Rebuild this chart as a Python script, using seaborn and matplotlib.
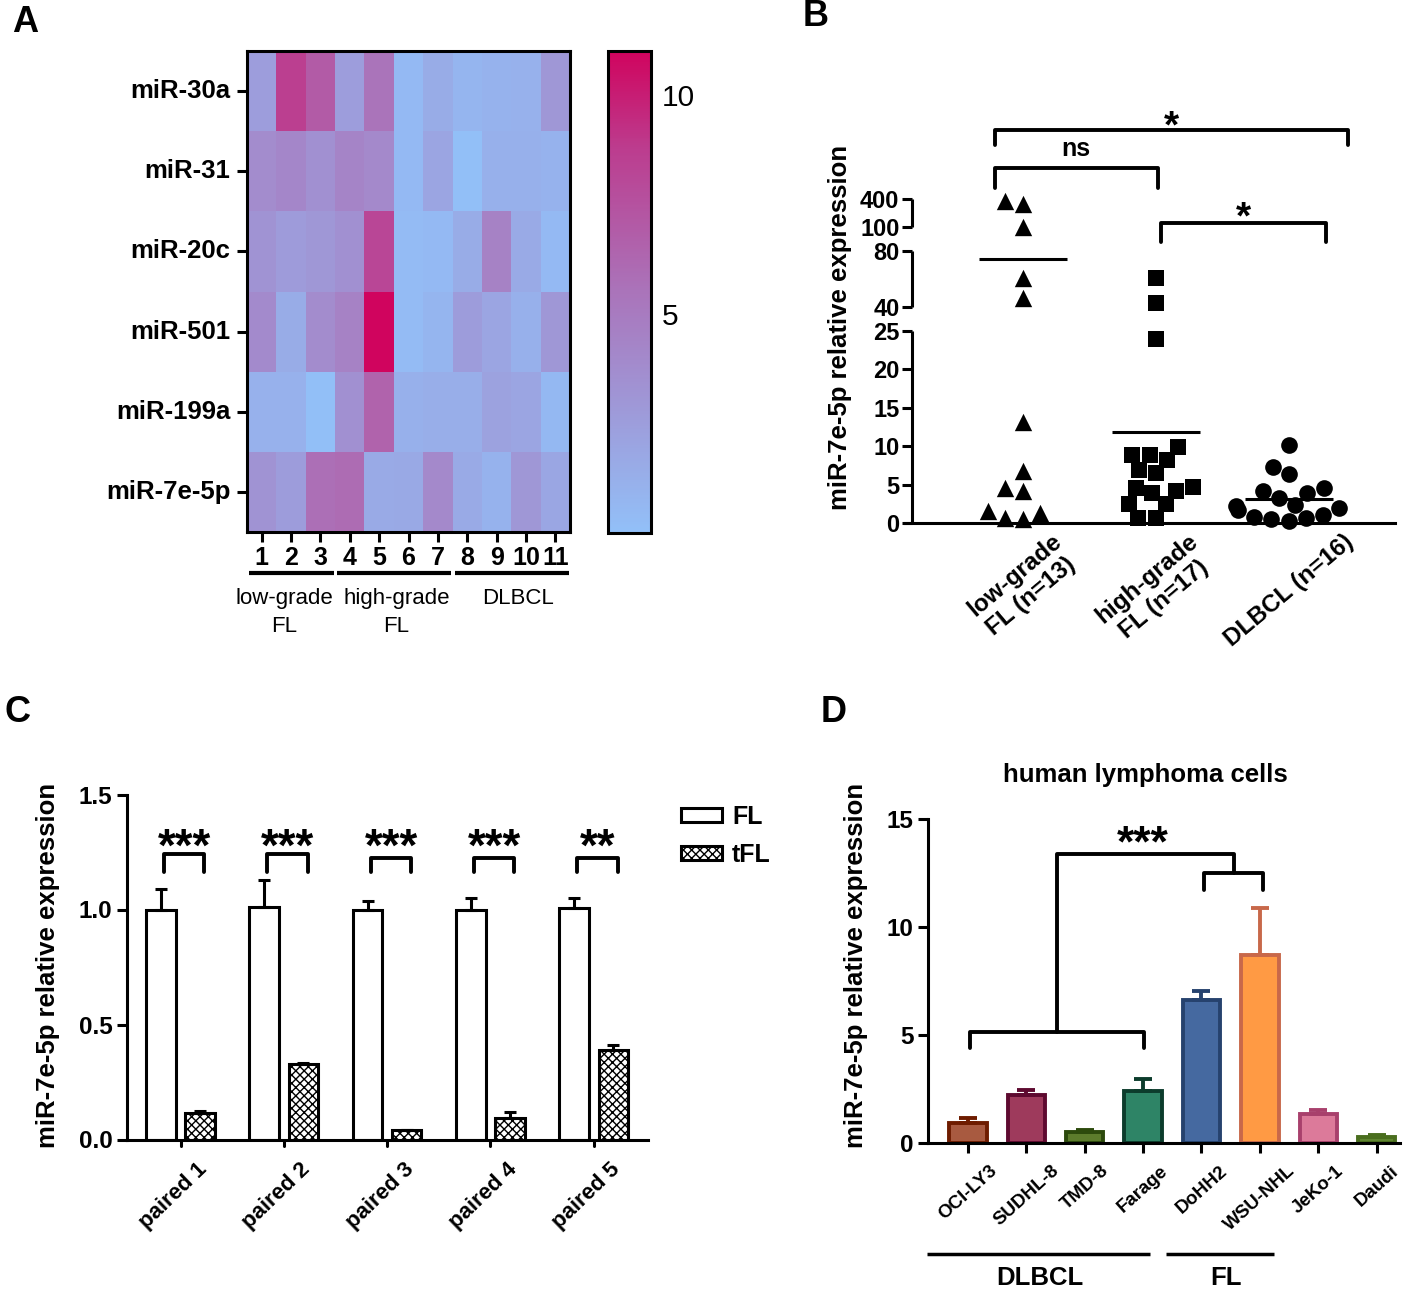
import numpy as np
import pandas as pd
import seaborn as sns
import matplotlib.pyplot as plt
from matplotlib.colors import LinearSegmentedColormap
from matplotlib.patches import Patch

sns.set_theme(style='ticks', rc={'axes.edgecolor': 'black', 'xtick.color': 'black',
                                 'ytick.color': 'black', 'text.color': 'black',
                                 'axes.labelcolor': 'black'})
plt.rcParams['font.family'] = ['Liberation Sans', 'DejaVu Sans']
plt.rcParams['font.weight'] = 'bold'
plt.rcParams['hatch.linewidth'] = 1.0

W, H = 1418, 1290


def box(l, t, r, b):
    # pixel box -> figure fraction
    return [l / W, 1 - b / H, (r - l) / W, (b - t) / H]


# ---------------- data ----------------
# A: heatmap
mirnas = ['miR-30a', 'miR-31', 'miR-20c', 'miR-501', 'miR-199a', 'miR-7e-5p']
samples = [str(i) for i in range(1, 12)]
heat = [
    [2.5, 8.6, 7.0, 2.5, 5.5, 0.5, 1.5, 0.8, 1.0, 1.1, 3.0],
    [3.8, 4.2, 3.5, 4.3, 4.0, 0.5, 2.0, 0.1, 1.2, 1.2, 1.0],
    [3.3, 2.7, 3.0, 3.5, 8.2, 0.4, 0.5, 1.5, 4.5, 1.6, 0.5],
    [3.9, 1.5, 3.8, 4.5, 11.0, 0.4, 0.8, 2.6, 2.0, 1.2, 3.0],
    [1.1, 1.1, 0.1, 3.5, 6.5, 1.2, 1.3, 1.3, 2.2, 2.0, 0.6],
    [3.3, 2.6, 5.8, 6.0, 1.6, 1.7, 4.0, 1.6, 1.0, 3.0, 1.9],
]
heat_groups = ['low-grade\nFL', 'high-grade\nFL', 'DLBCL']
heat_spans = [(0, 3), (3, 7), (7, 11)]

# B: scatter dot plot
b_groups = ['low-grade\nFL (n=13)', 'high-grade\nFL (n=17)', 'DLBCL (n=16)']
low_fl = [0.5, 380, 350, 100, 61, 46, 13.1, 6.8, 4.2, 4.5, 1.6, 0.7, 1.3]
high_fl = [61, 42.5, 23.9, 8.9, 8.8, 9.9, 8.2, 6.5, 6.9, 4.6, 4.2, 2.5, 3.9, 4.7, 2.5, 0.7, 0.7]
dlbcl = [10.1, 7.3, 6.4, 4.5, 3.2, 3.9, 4.1, 1.9, 1.7, 2.3, 2.2, 0.8, 1.0, 0.3, 0.6, 0.5]
b_values = [low_fl, high_fl, dlbcl]
b_yticks = [0, 5, 10, 15, 20, 25, 40, 80, 100, 400]

# C: paired FL / tFL
pairs = ['paired 1', 'paired 2', 'paired 3', 'paired 4', 'paired 5']
fl_mean = [1.0, 1.01, 1.0, 1.0, 1.005]
fl_se = [0.09, 0.12, 0.035, 0.05, 0.045]
tfl_mean = [0.115, 0.33, 0.04, 0.092, 0.39]
tfl_se = [0.01, 0.003, 0.003, 0.026, 0.02]
c_stars = ['***', '***', '***', '***', '**']

# D: cell lines
cells = ['OCI-LY3', 'SUDHL-8', 'TMD-8', 'Farage', 'DoHH2', 'WSU-NHL', 'JeKo-1', 'Daudi']
d_mean = [0.93, 2.2, 0.5, 2.4, 6.62, 8.7, 1.35, 0.25]
d_se = [0.2, 0.24, 0.09, 0.54, 0.43, 2.18, 0.17, 0.1]
d_fill = ['#a85a40', '#9e3a5c', '#5c7c2c', '#2e8466', '#4569a0', '#ff9a44', '#dc7a9a', '#5f8530']
d_edge = ['#6e1c00', '#5e0a30', '#2c4a0c', '#0c3c2c', '#26426e', '#c8684a', '#a8406c', '#4a6e1e']

fig = plt.figure(figsize=(W / 100, H / 100), dpi=100)

# ---------------- A ----------------
axA = fig.add_axes(box(247, 51, 570, 532))
caxA = fig.add_axes(box(608, 51, 651, 533))
cmap = LinearSegmentedColormap.from_list(
    'bluemag', [(0, '#92c0f8'), (0.5, '#aa74ba'), (0.8, '#bc3c8e'), (1, '#d0045e')])
heat_df = pd.DataFrame(heat, index=mirnas, columns=samples)
sns.heatmap(heat_df, cmap=cmap, vmin=0, vmax=11, ax=axA, cbar_ax=caxA)
for s in axA.spines.values():
    s.set_visible(True)
    s.set_linewidth(2.2)
axA.tick_params(length=7, width=2.2, labelsize=18.5, pad=5)
axA.tick_params(axis='x', labelsize=18, pad=3)
axA.set_yticklabels(mirnas, rotation=0)
axA.set_xticklabels(samples, rotation=0)
axA.set_xlabel('')
axA.set_ylabel('')
cbar = axA.collections[0].colorbar
cbar.outline.set_linewidth(2.2)
cbar.set_ticks([5, 10], labels=['5', '10'], fontsize=21.5, fontweight='normal')
caxA.tick_params(direction='in', length=6, width=2, left=True, right=True, pad=8)

trA = axA.get_xaxis_transform()
for (a, b), name, xc in zip(heat_spans, heat_groups, [1.27, 5.09, 9.24]):
    axA.plot([a + 0.08, b - 0.05], [-0.085, -0.085], transform=trA, color='black',
             lw=3, clip_on=False, solid_capstyle='butt')
    axA.text(xc, -0.117, name, transform=trA, ha='center', va='top',
             fontsize=16, fontweight='normal', linespacing=1.4)

# ---------------- B ----------------
b_nodes_val = [-100, 0, 25, 40, 80, 100, 400, 10000]
b_nodes_pos = [-769, 0, 192.3, 216.3, 271.7, 296.3, 323.7, 323.7 + 9600 * 0.0913]


def fwd(v):
    return np.interp(v, b_nodes_val, b_nodes_pos)


def inv(p):
    return np.interp(p, b_nodes_pos, b_nodes_val)


axB = fig.add_axes(box(912, 199.3, 1395, 523))
axB.set_yscale('function', functions=(fwd, inv))
for name, vals, mk, sz in zip(b_groups, b_values, ['^', 's', 'o'], [12.5, 12, 12]):
    sns.swarmplot(x=[name] * len(vals), y=vals, order=b_groups, color='black',
                  marker=mk, size=sz, linewidth=0, ax=axB)
for c in axB.collections:
    c.set_clip_on(False)
for i, vals in enumerate(b_values):
    axB.hlines(np.mean(vals), i - 0.33, i + 0.33, color='black', lw=2.2)
axB.set_xlim(-0.835, 2.8)
axB.set_ylim(0, 400)
sns.despine(ax=axB)
axB.spines['left'].set_visible(False)
axB.spines['bottom'].set_linewidth(2.2)
axB.spines['bottom'].set_bounds(-0.89, 2.8)
ytr = axB.get_yaxis_transform()
for lo, hi in [(0, 25), (40, 80), (100, 400)]:
    axB.plot([0, 0], [lo, hi], transform=ytr, color='black', lw=2.2,
             clip_on=False, solid_capstyle='butt')
axB.set_yticks(b_yticks)
axB.set_yticklabels([str(v) for v in b_yticks])
axB.tick_params(axis='y', length=7, width=2.2, labelsize=17, pad=2)
axB.tick_params(axis='x', length=0, pad=5)
axB.set_xticks(range(3))
axB.set_xticklabels(b_groups, rotation=40, ha='center', fontsize=17.5)
axB.set_xlabel('')
axB.set_ylabel('')
axB.spines['bottom'].set_clip_on(False)


def bracket(ax, tr, x0, x1, ytop, ybot, lw=2.8):
    ax.plot([x0, x0, x1, x1], [ybot, ytop, ytop, ybot], transform=tr, color='black',
            lw=lw, clip_on=False)


btr = axB.get_xaxis_transform()
bracket(axB, btr, -0.21, 2.45, 1.214, 1.168)
axB.text(1.12, 1.19, '*', transform=btr, ha='center', va='baseline', fontsize=28)
bracket(axB, btr, -0.21, 1.02, 1.098, 1.034)
axB.text(0.40, 1.134, 'ns', transform=btr, ha='center', va='baseline', fontsize=18)
bracket(axB, btr, 1.04, 2.28, 0.926, 0.869)
axB.text(1.66, 0.91, '*', transform=btr, ha='center', va='baseline', fontsize=28)

# ---------------- C ----------------
axC = fig.add_axes(box(127, 794.5, 648, 1139.5))
df_c = pd.DataFrame({'pair': pairs * 2, 'group': ['FL'] * 5 + ['tFL'] * 5,
                     'value': fl_mean + tfl_mean})
sns.barplot(df_c, x='pair', y='value', hue='group', palette=['white', 'white'],
            edgecolor='black', linewidth=2.2, width=0.76, gap=0.25, errorbar=None,
            legend=False, ax=axC)
for p in axC.containers[1]:
    p.set_hatch('xxxx')
for cont, se in zip(axC.containers, [fl_se, tfl_se]):
    xs = [p.get_x() + p.get_width() / 2 for p in cont]
    ys = [p.get_height() for p in cont]
    axC.errorbar(xs, ys, yerr=[np.zeros(len(se)), se], fmt='none', ecolor='black',
                 elinewidth=2.2, capsize=4.3, capthick=2.2)
axC.set_xlim(-0.518, 4.525)
axC.set_ylim(0, 1.5)
sns.despine(ax=axC)
for s in ['left', 'bottom']:
    axC.spines[s].set_linewidth(2.2)
axC.set_yticks([0, 0.5, 1.0, 1.5])
axC.set_yticklabels(['0.0', '0.5', '1.0', '1.5'])
axC.tick_params(length=7, width=2.2, labelsize=17.5)
# labels sit a little left of the tick marks, so the marks are drawn separately
axC.set_xticks([i - 0.07 for i in range(5)])
axC.set_xticklabels(pairs, rotation=44, ha='center')
axC.tick_params(axis='x', length=0, labelsize=16, pad=14)
for i in range(5):
    axC.plot([i, i], [0, -0.03], color='black', lw=2.2, clip_on=False)
axC.set_xlabel('')
axC.set_ylabel('')
c_tops = [1.24, 1.24, 1.225, 1.225, 1.225]
for i, (star, top) in enumerate(zip(c_stars, c_tops)):
    bracket(axC, axC.transData, i - 0.16, i + 0.23, top, 1.165)
    axC.text(i + 0.04, 1.212, star, ha='center', va='baseline', fontsize=33)
fig.legend(handles=[Patch(facecolor='white', edgecolor='black', lw=2.2),
                    Patch(facecolor='white', edgecolor='black', lw=2.2, hatch='xxxx')],
           labels=['FL', 'tFL'], loc='upper left', bbox_to_anchor=(681 / W, 1 - 805 / H),
           frameon=False, fontsize=18, handlelength=1.64, handleheight=0.5,
           handletextpad=0.4, labelspacing=0.55, borderpad=0, borderaxespad=0)

# ---------------- D ----------------
axD = fig.add_axes(box(928.3, 819.3, 1400, 1142.7))
sns.barplot(x=cells, y=d_mean, hue=cells, palette=d_fill, saturation=1, legend=False,
            width=0.64, linewidth=2.8, errorbar=None, ax=axD)
for p, ec in zip(axD.patches, d_edge):
    p.set_edgecolor(ec)
for i, (m, se, ec) in enumerate(zip(d_mean, d_se, d_edge)):
    axD.errorbar(i, m, yerr=[[0], [se]], fmt='none', ecolor=ec, elinewidth=2.8,
                 capsize=6.5, capthick=2.8)
axD.set_xlim(-0.677, 7.4)
axD.set_ylim(0, 15)
sns.despine(ax=axD)
for s in ['left', 'bottom']:
    axD.spines[s].set_linewidth(2.2)
axD.set_yticks([0, 5, 10, 15])
axD.tick_params(length=7, width=2.2, labelsize=17.5)
axD.tick_params(axis='x', labelsize=13.5, pad=7)
axD.set_xticks(range(len(cells)))
axD.set_xticklabels(cells, rotation=42, ha='center')
axD.set_xlabel('')
axD.set_ylabel('')
dtr = axD.transData
bracket(axD, dtr, 0.04, 3.02, 5.15, 4.38)
axD.plot([1.53, 1.53, 4.56, 4.56], [5.15, 13.37, 13.37, 12.52], color='black', lw=2.8)
bracket(axD, dtr, 4.04, 5.05, 12.52, 11.72)
axD.text(2.99, 13.3, '***', ha='center', va='baseline', fontsize=32)
dgt = axD.get_xaxis_transform()
for (x0, x1, xc), name in zip([(-0.694, 3.12, 1.24), (3.4, 5.25, 4.42)], ['DLBCL', 'FL']):
    axD.plot([x0, x1], [-0.344, -0.344], transform=dgt, color='black', lw=2.5,
             clip_on=False, solid_capstyle='butt')
    axD.text(xc, -0.418, name, transform=dgt, ha='center', va='center', fontsize=18.5)

# ---------------- shared texts ----------------
ylab = 'miR-7e-5p relative expression'
fig.text(840 / W, 1 - 327 / H, ylab, rotation=90, ha='center', va='center', fontsize=18.5)
fig.text(48 / W, 1 - 965 / H, ylab, rotation=90, ha='center', va='center', fontsize=18.5)
fig.text(856 / W, 1 - 965 / H, ylab, rotation=90, ha='center', va='center', fontsize=18.5)
fig.text(1145 / W, 1 - 775 / H, 'human lymphoma cells', ha='center', va='center', fontsize=18.5)
for letter, (x, y) in zip('ABCD', [(25, 23), (816, 17), (17, 712), (834, 712)]):
    fig.text(x / W, 1 - y / H, letter, ha='center', va='center', fontsize=26)

fig.savefig('out.png', dpi=100, facecolor='white')
